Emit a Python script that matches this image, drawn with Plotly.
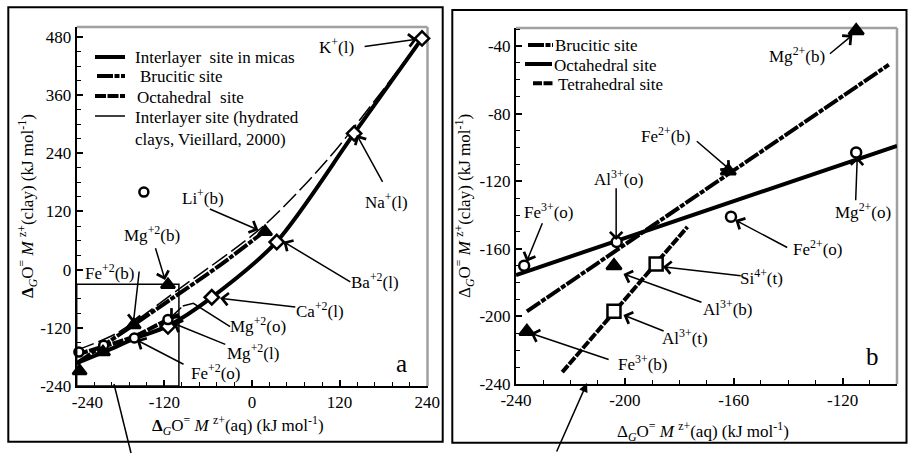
import plotly.graph_objects as go

FONT = "Liberation Serif"

# ---------------- data ----------------
# panel a: interlayer ions (diamonds)
il_ions = ["K+", "Na+", "Ba+2", "Ca+2", "Mg+2"]
il_x = [233, 140, 34, -55, -115]
il_y = [477, 281, 57, -57, -117]

# octahedral site (circles): Fe3+, Al3+, Fe2+, Mg2+
oct_ions = ["Fe3+", "Al3+", "Fe2+", "Mg2+"]
oct_x = [-237, -203, -161, -115]
oct_y = [-170, -156, -141, -103]

# brucitic site (triangles): Fe3+, Al3+, Fe2+, Mg2+
bru_ions = ["Fe3+", "Al3+", "Fe2+", "Mg2+"]
bru_x = [-236, -204, -162, -115]
bru_y = [-209, -170, -114, -31]

# tetrahedral site (squares): Al3+, Si4+
tet_ions = ["Al3+", "Si4+"]
tet_x = [-204, -188.5]
tet_y = [-197, -169]

# extra points only in panel a
li_x = [18]
li_y = [78]
iso_x = [-148]
iso_y = [160]

# panel a curves
curve_il_x = [-240, -200, -160, -115, -55, 34, 140, 233]
curve_il_y = [-193, -168, -142, -116, -57, 58, 281, 477]
curve_bru_x = [-240, -165, -112, -43, 18]
curve_bru_y = [-193, -117, -62, 10, 80]
curve_oct_x = [-240, -162, -118, -100]
curve_oct_y = [-175, -138, -105, -93]
curve_hyd_x = [-240, -185, -100, 15, 107, 233]
curve_hyd_y = [-166, -131, -40, 89, 233, 477]

# panel b fitted lines
fit_bru_x = [-236, -103]
fit_bru_y = [-197, -51]
fit_oct_x = [-240, -100]
fit_oct_y = [-175.5, -99]
fit_tet_x = [-223, -177]
fit_tet_y = [-233, -147]

# zoom rectangle of panel a
zoom_x = [-240, -100]
zoom_y = [-240, -30]

# tick values / labels
ticks_a_x = [-240, -120, 0, 120, 240]
ticks_a_x_text = ["\u00a0\u00a0\u00a0\u00a0\u00a0-240", "-120", "0", "120", "240"]
ticks_a_y = [-240, -120, 0, 120, 240, 360, 480]
ticks_a_y_text = ["-240", "-120", "0", "120", "240", "360", "480"]
ticks_b_x = [-240, -200, -160, -120]
ticks_b_x_text = ["-240", "-200", "-160", "-120"]
ticks_b_y = [-240, -200, -160, -120, -80, -40]
ticks_b_y_text = ["-240", "-200", "-160", "-120", "-80", "-40"]

# ---------------- styles ----------------
W_THICK = 4
DASH_BRU = "16px,1.5px,5px,1.5px"
DASH_OCT = "11px,1.5px"
DASH_TET = "9px,1.5px"
DASH_HYD = "18px,5px"
ARROW = dict(showarrow=True, arrowhead=4, arrowsize=1.6, arrowwidth=1.5, arrowcolor="black")

fig = go.Figure()


def line(x, y, xa, ya, width, dash="solid"):
    fig.add_trace(go.Scatter(x=x, y=y, xaxis=xa, yaxis=ya, mode="lines",
                             line=dict(color="black", width=width, dash=dash, shape="spline", smoothing=0.8),
                             showlegend=False, hoverinfo="skip"))


def pts(x, y, xa, ya, symbol, size, fill):
    fig.add_trace(go.Scatter(x=x, y=y, xaxis=xa, yaxis=ya, mode="markers",
                             marker=dict(symbol=symbol, size=size, color=fill,
                                         line=dict(color="black", width=2.5)),
                             showlegend=False, cliponaxis=False, hoverinfo="skip"))


# panel a
line(curve_hyd_x, curve_hyd_y, "x", "y", 1.5, DASH_HYD)
line(curve_oct_x, curve_oct_y, "x", "y", W_THICK, DASH_OCT)
line(curve_bru_x, curve_bru_y, "x", "y", W_THICK, DASH_BRU)
line(curve_il_x, curve_il_y, "x", "y", W_THICK)
pts(il_x, il_y, "x", "y", "diamond", 11, "white")
pts(oct_x + iso_x, oct_y + iso_y, "x", "y", "circle", 9, "white")
pts(bru_x + li_x, bru_y + li_y, "x", "y", "triangle-up", 12, "black")

# panel b
line(fit_bru_x, fit_bru_y, "x2", "y2", W_THICK, DASH_BRU)
line(fit_oct_x, fit_oct_y, "x2", "y2", W_THICK)
line(fit_tet_x, fit_tet_y, "x2", "y2", W_THICK, DASH_TET)
pts(oct_x, oct_y, "x2", "y2", "circle", 10, "white")
pts(tet_x, tet_y, "x2", "y2", "square", 13, "white")
pts(bru_x, bru_y, "x2", "y2", "triangle-up", 13, "black")

# ---------------- layout ----------------
W, H = 908, 455


def px(v):
    return v / W


def py(v):
    return 1 - v / H


axis_common = dict(showgrid=False, zeroline=False, showline=True, linecolor="black", linewidth=2,
                   ticks="inside", ticklen=6, tickwidth=1.5, tickcolor="black", automargin=False,
                   tickfont=dict(family=FONT, size=17, color="black"), tickmode="array")


def minor(d):
    return dict(tickmode="linear", tick0=-240, dtick=d, ticks="inside", ticklen=4, tickcolor="black", tickwidth=1.2)


fig.update_layout(
    template="none",
    font=dict(family=FONT, size=17, color="black"),
    width=W, height=H, margin=dict(l=0, r=0, t=0, b=0, pad=0, autoexpand=False),
    paper_bgcolor="white", plot_bgcolor="white", showlegend=False,
    xaxis=dict(axis_common, domain=[px(76.7), px(427.5)], range=[-240, 240.5],
               tickvals=ticks_a_x, ticktext=ticks_a_x_text, anchor="y", minor=minor(24)),
    yaxis=dict(axis_common, domain=[py(386), py(27)], range=[-240, 500.6],
               tickvals=ticks_a_y, ticktext=ticks_a_y_text, anchor="x", minor=minor(30)),
    xaxis2=dict(axis_common, domain=[px(516), px(897)], range=[-240, -100],
                tickvals=ticks_b_x, ticktext=ticks_b_x_text, anchor="y2", minor=minor(10)),
    yaxis2=dict(axis_common, domain=[py(384), py(28)], range=[-240, -29.3],
                tickvals=ticks_b_y, ticktext=ticks_b_y_text, anchor="x2", minor=minor(10)),
)

shapes = []
# outer panel boxes
shapes.append(dict(type="rect", xref="paper", yref="paper", x0=px(8.3), x1=px(442.7), y0=py(441.7), y1=py(7.3),
                   line=dict(color="black", width=2)))
shapes.append(dict(type="rect", xref="paper", yref="paper", x0=px(452.3), x1=px(906.5), y0=py(442.7), y1=py(10),
                   line=dict(color="black", width=2)))
# grey top/right plot borders
for xa, ya in (("x", "y"), ("x2", "y2")):
    shapes.append(dict(type="line", xref=xa + " domain", yref=ya + " domain", x0=0, x1=1, y0=1, y1=1,
                       line=dict(color="#a0a0a0", width=2.5), layer="below"))
    shapes.append(dict(type="line", xref=xa + " domain", yref=ya + " domain", x0=1, x1=1, y0=0, y1=1,
                       line=dict(color="#a0a0a0", width=2.5), layer="below"))
# zoom rectangle in panel a
shapes.append(dict(type="rect", xref="x", yref="y", x0=zoom_x[0], x1=zoom_x[1], y0=zoom_y[0], y1=zoom_y[1],
                   line=dict(color="black", width=1.5)))
# bent leader for Mg+2(o) in panel a
shapes.append(dict(type="path", xref="x", yref="y", path="M -29.9,-117.6 L -80.2,-69.4 L -94.7,-75",
                   line=dict(color="black", width=1.5)))
# connector line below panel a
shapes.append(dict(type="line", xref="paper", yref="paper", x0=px(131), y0=py(453), x1=px(114), y1=py(384),
                   line=dict(color="black", width=1.5)))

# legends (drawn manually)
leg_a = [("Interlayer  site in micas", 95, 125, 57, W_THICK, "solid", 133),
         ("Brucitic site", 97, 125, 76, W_THICK, DASH_BRU, 138),
         ("Octahedral  site", 95, 125, 96, W_THICK, DASH_OCT, 135),
         ("Interlayer site (hydrated<br>clays, Vieillard, 2000)", 95, 125, 116, 1.5, "solid", 133)]
leg_b = [("Brucitic site", 528, 553, 45, W_THICK, DASH_BRU, 553),
         ("Octahedral site", 525, 552, 64, W_THICK, "solid", 552),
         ("Tetrahedral site", 533, 553, 83.3, W_THICK, DASH_TET, 556)]

annotations = []
for text, lx0, lx1, ly, lw, dash, tx in leg_a + leg_b:
    shapes.append(dict(type="line", xref="paper", yref="paper", x0=px(lx0), x1=px(lx1), y0=py(ly), y1=py(ly),
                       line=dict(color="black", width=lw, dash=dash)))
    annotations.append(dict(xref="paper", yref="paper", x=px(tx), y=py(ly - 10.5), xanchor="left", yanchor="top",
                            text=text, showarrow=False, align="left",
                            font=dict(family=FONT, size=17, color="black")))

lab_font = dict(family=FONT, size=17, color="black")

# labels: (text, text_x, text_y, tail_x, tail_y, head_x, head_y)
labels_a = [
    ("K<sup>+</sup>(l)", 116.3, 462, 152.3, 460, 225.9, 475.3),
    ("Na<sup>+</sup>(l)", 184.8, 142, 180.1, 178.2, 143.7, 277.8),
    ("Li<sup>+</sup>(b)", -66.5, 149, -59.7, 126.6, 8.8, 81.8),
    ("Mg<sup>+2</sup>(b)", -137.2, 73, -132.7, 47.4, -119, -21.3),
    ("Fe<sup>+2</sup>(b)", -194.4, -5.5, -154.2, -0.7, -162.4, -110.6),
    ("Ba<sup>+2</sup>(l)", 168.8, -22.8, 136.8, -26.9, 43.1, 57.7),
    ("Ca<sup>+2</sup>(l)", 93.4, -82.6, 61.5, -77.6, -43.6, -59.1),
    ("Mg<sup>+2</sup>(o)", 8.8, -114.2, None, None, None, None),
    ("Mg<sup>+2</sup>(l)", 2, -170.5, -34.4, -155.4, -107.6, -110.6),
    ("Fe<sup>+2</sup>(o)", -50.5, -211.8, -91.6, -196.7, -157.8, -145.1),
]
labels_b = [
    ("Mg<sup>2+</sup>(b)", -136.7, -45.3, -125.2, -45.3, -116.4, -33.5),
    ("Fe<sup>2+</sup>(b)", -184.9, -92.7, -174.1, -95.6, -161.2, -113.4),
    ("Al<sup>3+</sup>(o)", -202.5, -118.3, -203.2, -123.3, -203.2, -154.8),
    ("Fe<sup>3+</sup>(o)", -228.2, -137.8, -230.1, -144, -236.1, -167.6),
    ("Fe<sup>2+</sup>(o)", -129.3, -159.7, -139.8, -159.7, -159.4, -143),
    ("Mg<sup>2+</sup>(o)", -112.4, -137.8, -115.2, -132.1, -114.6, -105.5),
    ("Si<sup>4+</sup>(t)", -149.8, -176.9, -156.9, -176.1, -186, -170.6),
    ("Al<sup>3+</sup>(b)", -162.4, -194.8, -171.3, -191.9, -200.5, -174.9),
    ("Al<sup>3+</sup>(t)", -177.8, -212, -185.2, -209, -200.5, -199.2),
    ("Fe<sup>3+</sup>(b)", -193.7, -227.8, -205.4, -225.8, -234.6, -210),
]

for labs, xa, ya in ((labels_a, "x", "y"), (labels_b, "x2", "y2")):
    for text, tx, ty, ax_, ay_, hx, hy in labs:
        annotations.append(dict(xref=xa, yref=ya, x=tx, y=ty, text=text, showarrow=False, font=lab_font,
                                xanchor="center", yanchor="middle"))
        if hx is not None:
            annotations.append(dict(xref=xa, yref=ya, x=hx, y=hy, axref=xa, ayref=ya, ax=ax_, ay=ay_, text="",
                                    **ARROW))
# Mg+2(o) last segment of bent leader
annotations.append(dict(xref="x", yref="y", x=-112.2, y=-100.3, axref="x", ayref="y", ax=-94.7, ay=-75, text="",
                        **ARROW))
# connector arrow below panel b
annotations.append(dict(xref="paper", yref="paper", x=px(587), y=py(383), axref="pixel", ayref="pixel",
                        ax=-31, ay=70, text="", showarrow=True, arrowhead=2, arrowsize=1.2, arrowwidth=1.5,
                        arrowcolor="black"))

# panel letters
annotations.append(dict(xref="x", yref="y", x=205.4, y=-193.2, text="a", showarrow=False,
                        xanchor="center", yanchor="middle", font=dict(family=FONT, size=25, color="black")))
annotations.append(dict(xref="x2", yref="y2", x=-109.1, y=-223.8, text="b", showarrow=False,
                        xanchor="center", yanchor="middle", font=dict(family=FONT, size=25, color="black")))

# axis titles
tfont = dict(family=FONT, size=17, color="black")
t_aq_a = "<b>Δ</b><sub><i>G</i></sub>O<sup>=</sup> <i>M</i> <sup>z+</sup>(aq) (kJ mol<sup>-1</sup>)"
t_clay_a = "<b>Δ</b><sub><i>G</i></sub>O<sup>=</sup> <i>M</i> <sup>z+</sup>(clay) (kJ mol<sup>-1</sup>)"
t_aq_b = "Δ<sub><i>G</i></sub>O<sup>=</sup> <i>M</i> <sup>z+</sup>(aq) (kJ mol<sup>-1</sup>)"
t_clay_b = "Δ<sub><i>G</i></sub>O<sup>=</sup> <i>M</i> <sup>z+</sup>(clay) (kJ mol<sup>-1</sup>)"
for text, x, y, ang in ((t_aq_a, 238, 425, 0), (t_clay_a, 28, 206, -90),
                        (t_aq_b, 703, 431, 0), (t_clay_b, 465, 206, -90)):
    annotations.append(dict(xref="paper", yref="paper", x=px(x), y=py(y), text=text, textangle=ang,
                            xanchor="center", yanchor="middle", showarrow=False, font=tfont))

fig.update_layout(shapes=shapes, annotations=annotations)

fig.write_html("out.html", config={"displayModeBar": False},
               post_script="document.body.style.margin='0px';")
